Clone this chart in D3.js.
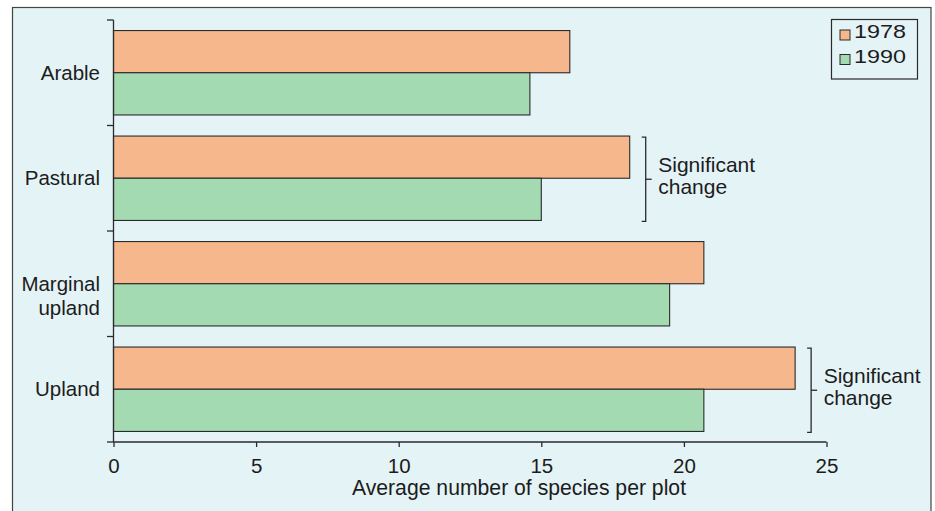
<!DOCTYPE html>
<html>
<head>
<meta charset="utf-8">
<script src="https://cdn.jsdelivr.net/npm/d3@7/dist/d3.min.js"></script>
<style>
  html, body { margin: 0; padding: 0; background: #ffffff; }
  svg { display: block; }
  text { font-family: "Liberation Sans", Arial, Helvetica, sans-serif; fill: #1c1c1c; }
</style>
</head>
<body>
<svg id="chart" width="935" height="511"></svg>
<script>
// ---- data ----
const categories = ["Arable", "Pastural", "Marginal upland", "Upland"];
const categoryLines = [["Arable"], ["Pastural"], ["Marginal", "upland"], ["Upland"]];
const years = ["1978", "1990"];
const values1978 = [16.0, 18.1, 20.7, 23.9];
const values1990 = [14.6, 15.0, 19.5, 20.7];
const significant = [false, true, false, true];
const significantLabel = ["Significant", "change"];
const xTicks = [0, 5, 10, 15, 20, 25];
const xTitle = "Average number of species per plot";

// ---- styles ----
const colors = { "1978": "#f6b78c", "1990": "#a3dab2" };
const bg = "#e4f3f6";
const ink = "#2a2a2a";
const fontSize = 20.5;

const svg = d3.select("#chart");

// frame
svg.append("rect")
  .attr("x", 12.5).attr("y", 7.5)
  .attr("width", 918.5).attr("height", 520)
  .attr("fill", bg).attr("stroke", "#444").attr("stroke-width", 1.2);

const x = d3.scaleLinear().domain([0, 25]).range([113.5, 826.5]);
const y = d3.scaleBand().domain(categories).range([20, 442])
  .paddingInner(0.2).paddingOuter(0.1);
const sub = d3.scaleBand().domain(years).range([0, y.bandwidth()]);

const rows = categories.map((c, i) => ({
  cat: c, lines: categoryLines[i], sig: significant[i],
  vals: [{ year: "1978", v: values1978[i] }, { year: "1990", v: values1990[i] }]
}));

// bars
const g = svg.append("g");
g.selectAll("g.row").data(rows).join("g").attr("class", "row")
  .attr("transform", d => `translate(0,${y(d.cat)})`)
  .selectAll("rect").data(d => d.vals).join("rect")
  .attr("x", x(0))
  .attr("y", d => sub(d.year))
  .attr("width", d => x(d.v) - x(0))
  .attr("height", sub.bandwidth())
  .attr("fill", d => colors[d.year])
  .attr("stroke", ink).attr("stroke-width", 1.1);

// y axis (ticks at band boundaries)
const step = y.step();
const y0 = y.range()[0];
const boundaries = d3.range(categories.length + 1).map(i => y0 + i * step);
const yAxis = svg.append("g");
yAxis.append("line")
  .attr("x1", x(0)).attr("x2", x(0))
  .attr("y1", boundaries[0]).attr("y2", boundaries[boundaries.length - 1])
  .attr("stroke", ink).attr("stroke-width", 1.3);
yAxis.selectAll("line.tk").data(boundaries).join("line").attr("class", "tk")
  .attr("x1", x(0) - 6.5).attr("x2", x(0))
  .attr("y1", d => d).attr("y2", d => d)
  .attr("stroke", ink).attr("stroke-width", 1.3);

// category labels
rows.forEach(r => {
  const cy = y(r.cat) + y.bandwidth() / 2;
  const t = svg.append("text")
    .attr("x", 100).attr("y", cy + 7)
    .attr("text-anchor", "end").attr("font-size", fontSize);
  r.lines.forEach((ln, j) => {
    t.append("tspan").attr("x", 100).attr("dy", j === 0 ? 0 : 24).text(ln);
  });
});

// x axis
const xAxisG = svg.append("g").attr("transform", `translate(0,${boundaries[boundaries.length - 1]})`)
  .call(d3.axisBottom(x).tickValues(xTicks).tickSize(5).tickSizeOuter(0).tickPadding(11));
xAxisG.select(".domain").attr("stroke", ink).attr("stroke-width", 1.3)
  .attr("d", `M${x(0)},0H${x(25)}`);
xAxisG.selectAll(".tick line").attr("stroke", ink).attr("stroke-width", 1.3);
xAxisG.selectAll(".tick text")
  .attr("font-size", fontSize).attr("fill", "#1c1c1c")
  .attr("font-family", "Liberation Sans, Arial, sans-serif");

svg.append("text")
  .attr("x", 519).attr("y", 495)
  .attr("text-anchor", "middle").attr("font-size", 21.2)
  .text(xTitle);

// significance brackets
rows.filter(r => r.sig).forEach(r => {
  const bx = x(d3.max(r.vals, d => d.v)) + 16;
  const top = y(r.cat) + 1;
  const bot = y(r.cat) + y.bandwidth() + 1;
  const mid = (top + bot) / 2;
  const bg2 = svg.append("g").attr("stroke", ink).attr("stroke-width", 1.3).attr("fill", "none");
  bg2.append("path").attr("d", `M${bx - 4},${top}H${bx}V${bot}H${bx - 4}`);
  bg2.append("line").attr("x1", bx).attr("x2", bx + 6).attr("y1", mid).attr("y2", mid);
  const t = svg.append("text").attr("x", bx + 12.5).attr("y", mid - 7)
    .attr("font-size", 21);
  significantLabel.forEach((ln, j) => {
    t.append("tspan").attr("x", bx + 12.5).attr("dy", j === 0 ? 0 : 22).text(ln);
  });
});

// legend
const lg = svg.append("g");
lg.append("rect").attr("x", 831.5).attr("y", 19.5).attr("width", 86).attr("height", 59.5)
  .attr("fill", bg).attr("stroke", ink).attr("stroke-width", 1.2);
years.forEach((yr, i) => {
  lg.append("rect").attr("x", 840).attr("y", 30 + i * 24.5).attr("width", 10).attr("height", 10)
    .attr("fill", colors[yr]).attr("stroke", ink).attr("stroke-width", 1);
  lg.append("text").attr("x", 854).attr("y", 37.5 + i * 25).attr("font-size", 19)
    .attr("textLength", 52).attr("lengthAdjust", "spacingAndGlyphs")
    .text(yr);
});
</script>
</body>
</html>
